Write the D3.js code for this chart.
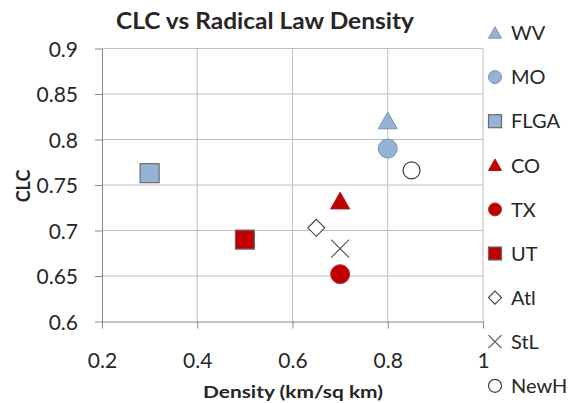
<!DOCTYPE html>
<html>
<head>
<meta charset="utf-8">
<script src="https://cdn.jsdelivr.net/npm/d3@7"></script>
<style>
  html, body { margin: 0; padding: 0; background: #fff; }
  svg { display: block; }
  text { font-family: Lato, "Open Sans", "Liberation Sans", sans-serif; fill: #262626; }
</style>
</head>
<body>
<svg id="chart" width="575" height="403"></svg>
<script>
// ---- data ----
const seriesNames = ["WV", "MO", "FLGA", "CO", "TX", "UT", "Atl", "StL", "NewH"];
const densityValues = [0.8, 0.8, 0.3, 0.7, 0.7, 0.5, 0.65, 0.7, 0.85];
const clcValues = [0.82, 0.79, 0.763, 0.732, 0.652, 0.69, 0.703, 0.68, 0.766];
const seriesShapes = ["triangle", "circle", "square", "triangle", "circle", "square", "diamond", "cross", "circle"];
const seriesFills = ["#95b3d7", "#95b3d7", "#95b3d7", "#c00000", "#c00000", "#c00000", "#ffffff", "none", "#ffffff"];
const xTickValues = [0.2, 0.4, 0.6, 0.8, 1.0];
const xTickLabels = ["0.2", "0.4", "0.6", "0.8", "1"];
const yTickValues = [0.6, 0.65, 0.7, 0.75, 0.8, 0.85, 0.9];
const yTickLabels = ["0.6", "0.65", "0.7", "0.75", "0.8", "0.85", "0.9"];
const chartTitle = "CLC vs Radical Law Density";
const xTitle = "Density (km/sq km)";
const yTitle = "CLC";

// ---- layout ----
const svg = d3.select("#chart");
const x = d3.scaleLinear().domain([0.2, 1.0]).range([102, 483]);
const y = d3.scaleLinear().domain([0.6, 0.9]).range([321.5, 48.5]);

const gridColor = "#bfbfbf";
const axisColor = "#868686";

// gridlines
svg.append("g").selectAll("line.v").data(xTickValues.slice(1)).join("line")
  .attr("x1", d => x(d)).attr("x2", d => x(d))
  .attr("y1", y(0.9)).attr("y2", y(0.6))
  .attr("stroke", gridColor).attr("stroke-width", 1);
svg.append("g").selectAll("line.h").data(yTickValues.slice(1)).join("line")
  .attr("x1", x(0.2)).attr("x2", x(1.0))
  .attr("y1", d => y(d)).attr("y2", d => y(d))
  .attr("stroke", gridColor).attr("stroke-width", 1);

// axes
const xAxis = d3.axisBottom(x).tickValues(xTickValues).tickSize(7).tickSizeOuter(0)
  .tickFormat((d, i) => xTickLabels[i]).tickPadding(14);
const gx = svg.append("g").attr("transform", `translate(0,${y(0.6)})`).call(xAxis);
gx.select(".domain").attr("stroke", axisColor);
gx.selectAll(".tick line").attr("stroke", axisColor);
gx.selectAll(".tick text").attr("font-size", 21).attr("font-family", null).attr("fill", "#262626")
  .attr("dy", null).attr("y", 46.5).attr("dominant-baseline", "auto");

const yAxis = d3.axisLeft(y).tickValues(yTickValues).tickSize(7).tickSizeOuter(0)
  .tickFormat((d, i) => yTickLabels[i]).tickPadding(17);
const gy = svg.append("g").attr("transform", `translate(${x(0.2)},0)`).call(yAxis);
gy.select(".domain").attr("stroke", axisColor);
gy.selectAll(".tick line").attr("stroke", axisColor);
gy.selectAll(".tick text").attr("font-size", 21).attr("font-family", null).attr("fill", "#262626")
  .attr("dy", "0.36em");

// titles
svg.append("text").attr("x", 265).attr("y", 29).attr("text-anchor", "middle")
  .attr("font-size", 22).attr("font-weight", "bold").attr("fill", "#000")
  .attr("textLength", 298).attr("lengthAdjust", "spacingAndGlyphs").text(chartTitle);
svg.append("text").attr("x", 293).attr("y", 398).attr("text-anchor", "middle")
  .attr("font-size", 17).attr("font-weight", "bold").attr("fill", "#000")
  .attr("textLength", 180).attr("lengthAdjust", "spacingAndGlyphs").text(xTitle);
svg.append("text").attr("transform", "translate(30,186) rotate(-90)").attr("text-anchor", "middle")
  .attr("font-size", 18).attr("font-weight", "bold").attr("fill", "#000").text(yTitle);

// marker drawing
function drawMarker(g, shape, fill, size) {
  const s = size;
  if (shape === "circle") {
    const open = fill === "#ffffff";
    g.append("circle").attr("r", s / 2).attr("fill", fill)
      .attr("stroke", open ? "#3f3f3f" : (fill === "#c00000" ? "#b03030" : "#7d93ad"))
      .attr("stroke-width", open ? 1.2 : 1);
  } else if (shape === "square") {
    g.append("rect").attr("x", -s / 2).attr("y", -s / 2).attr("width", s).attr("height", s)
      .attr("fill", fill).attr("stroke", "#6a6a6a").attr("stroke-width", 1.2);
  } else if (shape === "triangle") {
    const h = s * 0.88;
    g.append("path").attr("d", `M0,${-h * 0.55}L${s / 2},${h * 0.45}L${-s / 2},${h * 0.45}Z`)
      .attr("fill", fill).attr("stroke", fill === "#c00000" ? "#b01010" : "#7d93ad").attr("stroke-width", 1);
  } else if (shape === "diamond") {
    const r = s / 2;
    g.append("path").attr("d", `M0,${-r}L${r},0L0,${r}L${-r},0Z`)
      .attr("fill", "#fff").attr("stroke", "#3f3f3f").attr("stroke-width", 1.1);
  } else if (shape === "cross") {
    const r = s / 2;
    g.append("path").attr("d", `M${-r},${-r}L${r},${r}M${r},${-r}L${-r},${r}`)
      .attr("fill", "none").attr("stroke", "#595959").attr("stroke-width", 1.2);
  }
}

// points
const pts = seriesNames.map((n, i) => ({ name: n, x: densityValues[i], y: clcValues[i], shape: seriesShapes[i], fill: seriesFills[i] }));
const pg = svg.append("g");
pts.forEach(p => {
  const g = pg.append("g").attr("transform", `translate(${x(p.x)},${y(p.y)})`);
  const size = p.shape === "diamond" ? 17 : (p.shape === "cross" ? 18 : (p.name === "NewH" ? 17 : 19));
  drawMarker(g, p.shape, p.fill, size);
});

// legend
const legend = svg.append("g");
seriesNames.forEach((n, i) => {
  const cy = 33 + i * 44.1;
  const g = legend.append("g").attr("transform", `translate(495,${cy})`);
  drawMarker(g, seriesShapes[i], seriesFills[i], 13);
  legend.append("text").attr("x", 511).attr("y", cy).attr("dy", "0.36em")
    .attr("font-size", 20).attr("fill", "#1a1a1a").text(n);
});
</script>
</body>
</html>
